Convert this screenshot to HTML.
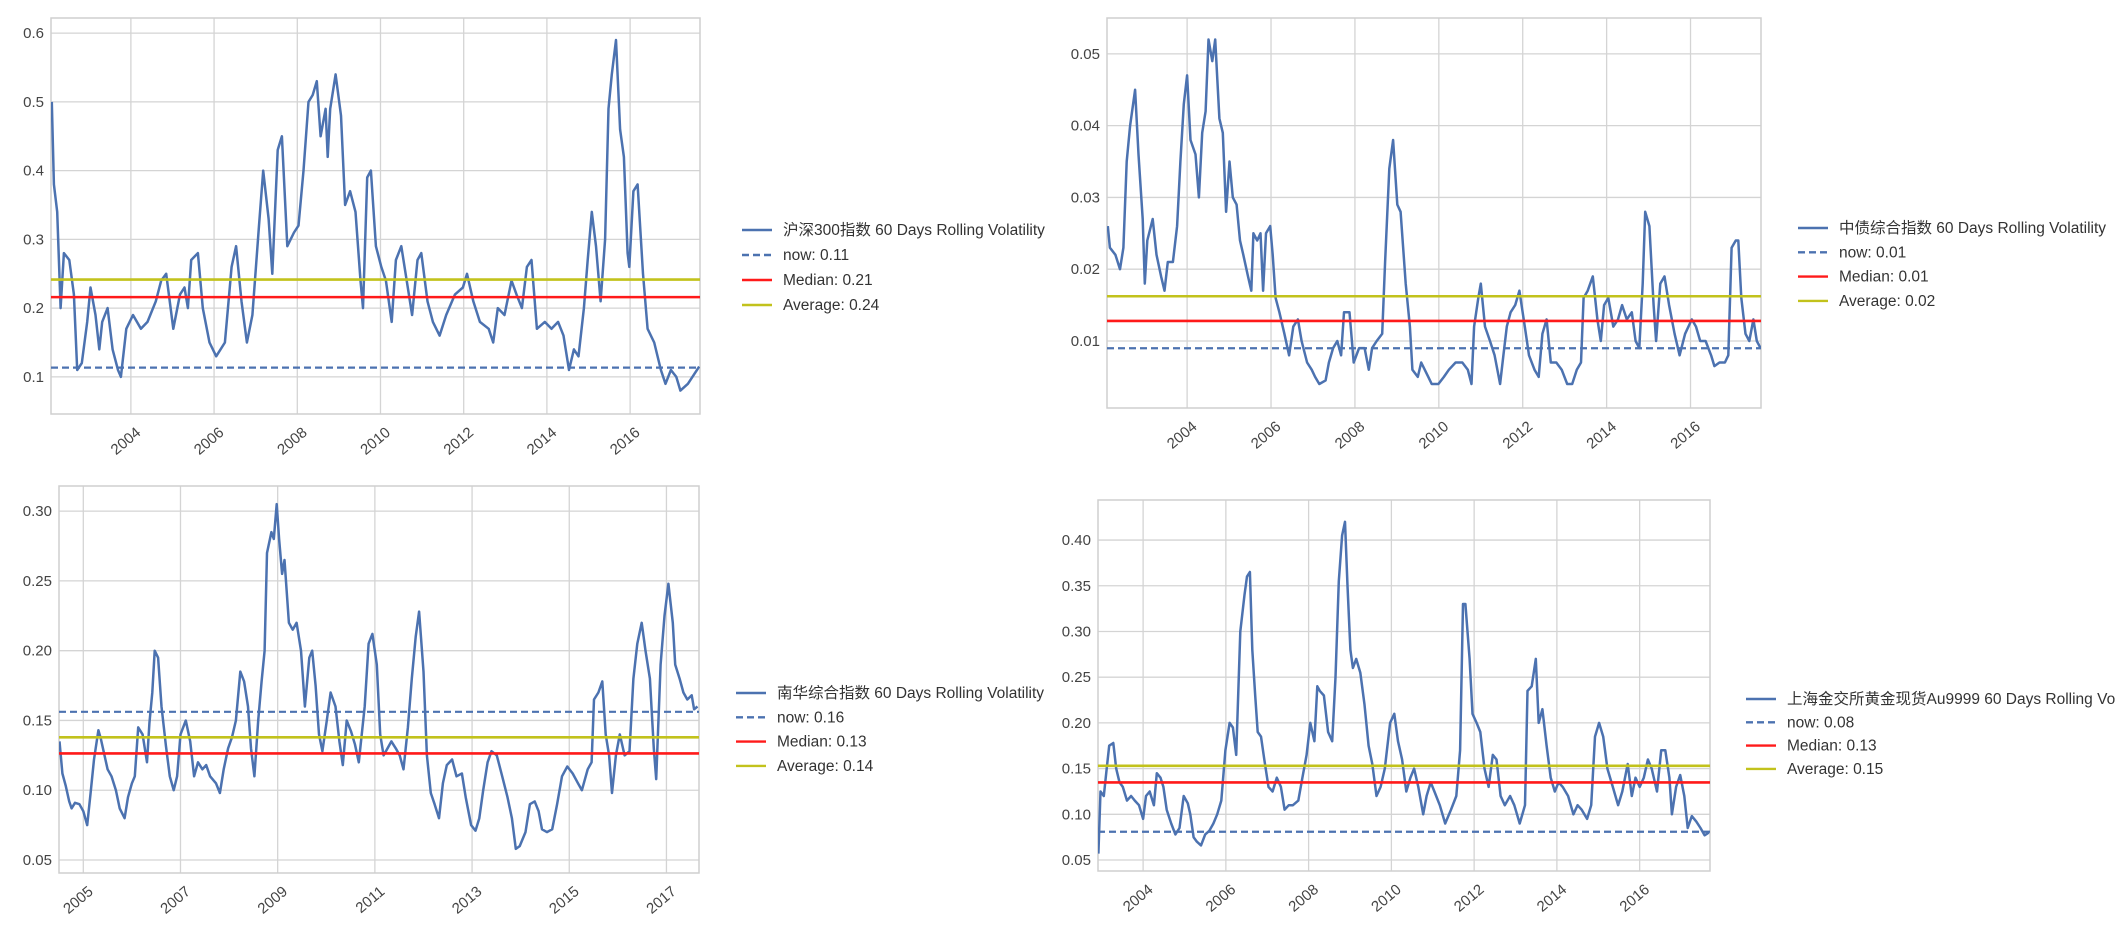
<!DOCTYPE html>
<html><head><meta charset="utf-8"><style>
html,body{margin:0;padding:0;background:#fff;}
svg{display:block;font-family:"Liberation Sans","Noto Sans CJK SC",sans-serif;}
</style></head><body>
<svg id="root" width="2115" height="927" viewBox="0 0 2115 927" xmlns="http://www.w3.org/2000/svg"></svg>
<script>
// ---------- Chart 1 data: 沪深300指数 ----------
const c1Years=[2002.10,2002.15,2002.23,2002.31,2002.39,2002.52,2002.63,2002.71,2002.82,2002.95,2003.03,2003.15,2003.24,2003.31,2003.44,2003.56,2003.69,2003.76,2003.89,2004.05,2004.24,2004.40,2004.60,2004.73,2004.85,2005.02,2005.18,2005.29,2005.37,2005.45,2005.61,2005.73,2005.89,2006.05,2006.26,2006.42,2006.53,2006.66,2006.79,2006.92,2007.08,2007.18,2007.31,2007.40,2007.53,2007.63,2007.76,2007.92,2008.03,2008.15,2008.27,2008.37,2008.47,2008.56,2008.68,2008.73,2008.79,2008.92,2009.05,2009.15,2009.27,2009.40,2009.52,2009.58,2009.68,2009.77,2009.89,2010.02,2010.13,2010.27,2010.37,2010.50,2010.63,2010.76,2010.89,2010.98,2011.13,2011.26,2011.42,2011.58,2011.79,2011.98,2012.08,2012.23,2012.39,2012.60,2012.71,2012.82,2012.98,2013.15,2013.27,2013.40,2013.52,2013.63,2013.76,2013.95,2014.11,2014.27,2014.40,2014.53,2014.65,2014.76,2014.89,2014.98,2015.08,2015.18,2015.29,2015.40,2015.48,2015.56,2015.66,2015.76,2015.85,2015.94,2015.98,2016.08,2016.18,2016.31,2016.42,2016.58,2016.74,2016.85,2016.98,2017.11,2017.21,2017.39,2017.66];
const c1Vals=[0.50,0.38,0.34,0.20,0.28,0.27,0.22,0.11,0.12,0.18,0.23,0.19,0.14,0.18,0.20,0.14,0.11,0.10,0.17,0.19,0.17,0.18,0.21,0.24,0.25,0.17,0.22,0.23,0.20,0.27,0.28,0.20,0.15,0.13,0.15,0.26,0.29,0.21,0.15,0.19,0.32,0.40,0.33,0.25,0.43,0.45,0.29,0.31,0.32,0.40,0.50,0.51,0.53,0.45,0.49,0.42,0.49,0.54,0.48,0.35,0.37,0.34,0.24,0.20,0.39,0.40,0.29,0.26,0.24,0.18,0.27,0.29,0.24,0.19,0.27,0.28,0.21,0.18,0.16,0.19,0.22,0.23,0.25,0.21,0.18,0.17,0.15,0.20,0.19,0.24,0.22,0.20,0.26,0.27,0.17,0.18,0.17,0.18,0.16,0.11,0.14,0.13,0.20,0.27,0.34,0.29,0.21,0.30,0.49,0.54,0.59,0.46,0.42,0.28,0.26,0.37,0.38,0.25,0.17,0.15,0.11,0.09,0.11,0.10,0.08,0.09,0.115];
const c1Refs=[0.1135,0.216,0.2416];
const c1YTicks=[0.1,0.2,0.3,0.4,0.5,0.6];
const c1YLabels=["0.1","0.2","0.3","0.4","0.5","0.6"];
const c1XTicks=[2004,2006,2008,2010,2012,2014,2016];
const c1Legend=["沪深300指数 60 Days Rolling Volatility","now: 0.11","Median: 0.21","Average: 0.24"];

// ---------- Chart 2 data: 中债综合指数 ----------
const c2Years=[2002.11,2002.16,2002.29,2002.40,2002.48,2002.56,2002.64,2002.76,2002.84,2002.94,2002.99,2003.05,2003.18,2003.27,2003.38,2003.46,2003.54,2003.66,2003.76,2003.84,2003.92,2004.00,2004.08,2004.20,2004.28,2004.36,2004.44,2004.51,2004.60,2004.67,2004.77,2004.85,2004.93,2005.01,2005.09,2005.18,2005.26,2005.34,2005.45,2005.53,2005.58,2005.67,2005.75,2005.81,2005.88,2005.98,2006.04,2006.11,2006.20,2006.32,2006.43,2006.53,2006.64,2006.73,2006.86,2006.97,2007.05,2007.15,2007.30,2007.38,2007.48,2007.58,2007.67,2007.74,2007.87,2007.97,2008.10,2008.23,2008.33,2008.41,2008.52,2008.65,2008.72,2008.82,2008.91,2009.01,2009.09,2009.21,2009.31,2009.37,2009.50,2009.58,2009.75,2009.83,2009.99,2010.12,2010.24,2010.40,2010.56,2010.69,2010.78,2010.84,2010.94,2011.00,2011.10,2011.22,2011.33,2011.46,2011.54,2011.62,2011.71,2011.82,2011.92,2012.05,2012.15,2012.28,2012.38,2012.47,2012.57,2012.67,2012.80,2012.93,2013.06,2013.18,2013.29,2013.39,2013.45,2013.55,2013.67,2013.78,2013.86,2013.94,2014.04,2014.16,2014.27,2014.37,2014.48,2014.60,2014.69,2014.78,2014.86,2014.92,2015.02,2015.12,2015.18,2015.28,2015.38,2015.49,2015.62,2015.74,2015.87,2016.03,2016.13,2016.23,2016.36,2016.49,2016.57,2016.69,2016.82,2016.90,2016.98,2017.08,2017.14,2017.21,2017.31,2017.40,2017.50,2017.58,2017.67];
const c2Vals=[0.026,0.023,0.022,0.020,0.023,0.035,0.040,0.045,0.036,0.027,0.018,0.024,0.027,0.022,0.019,0.017,0.021,0.021,0.026,0.035,0.043,0.047,0.038,0.036,0.030,0.039,0.042,0.052,0.049,0.052,0.041,0.039,0.028,0.035,0.030,0.029,0.024,0.022,0.019,0.017,0.025,0.024,0.025,0.017,0.025,0.026,0.022,0.016,0.014,0.011,0.008,0.012,0.013,0.010,0.007,0.006,0.005,0.004,0.0045,0.007,0.009,0.010,0.008,0.014,0.014,0.007,0.009,0.009,0.006,0.009,0.010,0.011,0.021,0.034,0.038,0.029,0.028,0.018,0.012,0.006,0.005,0.007,0.005,0.004,0.004,0.005,0.006,0.007,0.007,0.006,0.004,0.012,0.016,0.018,0.012,0.010,0.008,0.004,0.008,0.012,0.014,0.015,0.017,0.012,0.008,0.006,0.005,0.011,0.013,0.007,0.007,0.006,0.004,0.004,0.006,0.007,0.016,0.017,0.019,0.013,0.010,0.015,0.016,0.012,0.013,0.015,0.013,0.014,0.010,0.009,0.018,0.028,0.026,0.015,0.010,0.018,0.019,0.015,0.011,0.008,0.011,0.013,0.012,0.010,0.010,0.008,0.0065,0.007,0.007,0.008,0.023,0.024,0.024,0.016,0.011,0.010,0.013,0.010,0.009];
const c2Refs=[0.00898,0.01279,0.01623];
const c2YTicks=[0.01,0.02,0.03,0.04,0.05];
const c2YLabels=["0.01","0.02","0.03","0.04","0.05"];
const c2XTicks=[2004,2006,2008,2010,2012,2014,2016];
const c2Legend=["中债综合指数 60 Days Rolling Volatility","now: 0.01","Median: 0.01","Average: 0.02"];

// ---------- Chart 3 data: 南华综合指数 ----------
const c3Years=[2004.51,2004.57,2004.64,2004.71,2004.76,2004.83,2004.92,2005.00,2005.08,2005.15,2005.22,2005.31,2005.36,2005.43,2005.50,2005.58,2005.67,2005.75,2005.85,2005.92,2006.00,2006.06,2006.13,2006.22,2006.31,2006.36,2006.42,2006.47,2006.54,2006.61,2006.70,2006.78,2006.86,2006.93,2007.00,2007.11,2007.20,2007.28,2007.36,2007.45,2007.53,2007.61,2007.73,2007.81,2007.89,2007.98,2008.06,2008.14,2008.23,2008.31,2008.39,2008.45,2008.52,2008.60,2008.67,2008.73,2008.78,2008.87,2008.92,2008.98,2009.03,2009.09,2009.14,2009.23,2009.31,2009.39,2009.48,2009.56,2009.65,2009.71,2009.78,2009.85,2009.92,2010.01,2010.09,2010.19,2010.27,2010.34,2010.42,2010.51,2010.59,2010.67,2010.79,2010.87,2010.95,2011.04,2011.11,2011.18,2011.26,2011.34,2011.43,2011.51,2011.59,2011.68,2011.76,2011.84,2011.91,2012.00,2012.07,2012.15,2012.23,2012.32,2012.40,2012.48,2012.59,2012.68,2012.79,2012.87,2012.98,2013.07,2013.15,2013.23,2013.32,2013.40,2013.51,2013.62,2013.73,2013.82,2013.90,2013.98,2014.10,2014.19,2014.29,2014.37,2014.44,2014.54,2014.65,2014.75,2014.85,2014.96,2015.07,2015.18,2015.26,2015.38,2015.46,2015.51,2015.60,2015.68,2015.75,2015.82,2015.88,2015.96,2016.04,2016.14,2016.24,2016.32,2016.40,2016.49,2016.57,2016.66,2016.74,2016.79,2016.88,2016.96,2017.04,2017.13,2017.18,2017.27,2017.35,2017.43,2017.52,2017.57,2017.64];
const c3Vals=[0.135,0.112,0.103,0.092,0.087,0.091,0.090,0.085,0.075,0.098,0.122,0.143,0.137,0.126,0.115,0.110,0.100,0.087,0.080,0.095,0.105,0.110,0.145,0.140,0.120,0.148,0.170,0.200,0.195,0.160,0.132,0.110,0.100,0.110,0.140,0.150,0.135,0.110,0.120,0.115,0.118,0.110,0.105,0.098,0.115,0.130,0.138,0.150,0.185,0.178,0.160,0.130,0.110,0.150,0.178,0.200,0.270,0.285,0.280,0.305,0.280,0.255,0.265,0.220,0.215,0.220,0.200,0.160,0.195,0.200,0.175,0.140,0.128,0.150,0.170,0.160,0.135,0.118,0.150,0.142,0.133,0.120,0.160,0.205,0.212,0.190,0.140,0.125,0.130,0.135,0.130,0.125,0.115,0.145,0.180,0.210,0.228,0.185,0.125,0.098,0.090,0.080,0.105,0.118,0.122,0.110,0.112,0.095,0.075,0.071,0.080,0.100,0.120,0.128,0.125,0.110,0.095,0.080,0.058,0.060,0.070,0.090,0.092,0.085,0.072,0.070,0.072,0.090,0.110,0.117,0.112,0.105,0.100,0.115,0.120,0.165,0.170,0.178,0.140,0.125,0.098,0.125,0.140,0.125,0.128,0.180,0.205,0.220,0.200,0.180,0.130,0.108,0.190,0.225,0.248,0.220,0.190,0.180,0.170,0.165,0.168,0.158,0.160];
const c3Refs=[0.1562,0.1264,0.1379];
const c3YTicks=[0.05,0.10,0.15,0.20,0.25,0.30];
const c3YLabels=["0.05","0.10","0.15","0.20","0.25","0.30"];
const c3XTicks=[2005,2007,2009,2011,2013,2015,2017];
const c3Legend=["南华综合指数 60 Days Rolling Volatility","now: 0.16","Median: 0.13","Average: 0.14"];

// ---------- Chart 4 data: 上海金交所黄金现货Au9999 ----------
const c4Years=[2002.92,2002.97,2003.05,2003.12,2003.18,2003.28,2003.35,2003.43,2003.51,2003.61,2003.71,2003.80,2003.90,2004.00,2004.07,2004.16,2004.26,2004.33,2004.42,2004.49,2004.57,2004.68,2004.78,2004.88,2004.98,2005.08,2005.14,2005.22,2005.30,2005.40,2005.50,2005.60,2005.70,2005.79,2005.89,2005.99,2006.09,2006.17,2006.25,2006.35,2006.45,2006.51,2006.58,2006.64,2006.71,2006.77,2006.85,2006.93,2007.03,2007.13,2007.23,2007.33,2007.42,2007.52,2007.62,2007.75,2007.85,2007.95,2008.04,2008.14,2008.21,2008.27,2008.37,2008.47,2008.57,2008.65,2008.73,2008.81,2008.88,2008.94,2009.01,2009.07,2009.15,2009.25,2009.35,2009.45,2009.54,2009.64,2009.74,2009.84,2009.97,2010.07,2010.16,2010.26,2010.36,2010.46,2010.55,2010.65,2010.77,2010.85,2010.95,2011.04,2011.17,2011.30,2011.44,2011.57,2011.66,2011.73,2011.79,2011.89,2011.96,2012.06,2012.15,2012.25,2012.35,2012.45,2012.54,2012.64,2012.74,2012.87,2012.97,2013.10,2013.23,2013.29,2013.39,2013.49,2013.56,2013.65,2013.75,2013.85,2013.95,2014.04,2014.14,2014.27,2014.40,2014.50,2014.60,2014.73,2014.83,2014.92,2015.02,2015.12,2015.22,2015.35,2015.48,2015.58,2015.71,2015.81,2015.90,2016.00,2016.10,2016.20,2016.29,2016.42,2016.52,2016.62,2016.72,2016.78,2016.88,2016.98,2017.08,2017.16,2017.26,2017.37,2017.47,2017.57,2017.67];
const c4Vals=[0.057,0.125,0.120,0.150,0.175,0.178,0.150,0.135,0.130,0.115,0.120,0.115,0.110,0.095,0.120,0.125,0.110,0.145,0.140,0.130,0.105,0.090,0.078,0.085,0.120,0.112,0.100,0.075,0.070,0.066,0.078,0.082,0.090,0.100,0.115,0.170,0.200,0.195,0.165,0.300,0.340,0.360,0.365,0.280,0.230,0.190,0.185,0.160,0.130,0.125,0.140,0.130,0.105,0.110,0.110,0.115,0.140,0.165,0.200,0.180,0.240,0.235,0.230,0.190,0.180,0.250,0.355,0.405,0.420,0.350,0.280,0.260,0.270,0.255,0.220,0.175,0.155,0.120,0.130,0.150,0.200,0.210,0.180,0.160,0.125,0.140,0.150,0.130,0.100,0.120,0.135,0.125,0.110,0.090,0.105,0.120,0.170,0.330,0.330,0.270,0.210,0.200,0.190,0.150,0.130,0.165,0.160,0.120,0.110,0.120,0.110,0.090,0.110,0.235,0.240,0.270,0.200,0.215,0.175,0.140,0.125,0.135,0.130,0.120,0.100,0.110,0.105,0.095,0.110,0.185,0.200,0.185,0.150,0.130,0.110,0.125,0.155,0.120,0.140,0.130,0.140,0.160,0.150,0.125,0.170,0.170,0.140,0.100,0.130,0.143,0.120,0.085,0.098,0.092,0.085,0.077,0.080];
const c4Refs=[0.0809,0.1349,0.1531];
const c4YTicks=[0.05,0.10,0.15,0.20,0.25,0.30,0.35,0.40];
const c4YLabels=["0.05","0.10","0.15","0.20","0.25","0.30","0.35","0.40"];
const c4XTicks=[2004,2006,2008,2010,2012,2014,2016];
const c4Legend=["上海金交所黄金现货Au9999 60 Days Rolling Volatility","now: 0.08","Median: 0.13","Average: 0.15"];

const NS="http://www.w3.org/2000/svg";
const root=document.getElementById('root');
function mk(tag,attrs,parent){const e=document.createElementNS(NS,tag);for(const k in attrs)e.setAttribute(k,attrs[k]);parent.appendChild(e);return e;}

const refColors=["#4c72b0","#ff1a1a","#c2c21c"];
function drawChart(id,box,xDom,yDom,years,vals,refs,yTicks,yLabels,xTicks,legend,leg){
  const g=mk('g',{},root);
  
  
  const X=v=>box.l+(v-xDom[0])/(xDom[1]-xDom[0])*(box.r-box.l);
  const Y=v=>box.b-(v-yDom[0])/(yDom[1]-yDom[0])*(box.b-box.t);
  const grid=mk('g',{stroke:"#d4d4d4","stroke-width":1.3},g);
  
  
  yTicks.forEach((t,i)=>{
    const y=Y(t);
    mk('line',{x1:box.l,x2:box.r,y1:y,y2:y},grid);
    const tx=mk('text',{x:box.l-7,y:y+5,"text-anchor":"end","font-size":15,fill:"#444"},g);
    tx.textContent=yLabels[i];
    
    
  });
  xTicks.forEach(t=>{
    const x=X(t);
    mk('line',{x1:x,x2:x,y1:box.t,y2:box.b},grid);
    const tx=mk('text',{x:x+4,y:box.b+12,"text-anchor":"end","font-size":15,fill:"#444",transform:`rotate(-40 ${x+4} ${box.b+12})`,dy:"0.7em"},g);
    tx.textContent=String(t);
    
    
  });
  const frame=mk('rect',{x:box.l,y:box.t,width:box.r-box.l,height:box.b-box.t,fill:"none",stroke:"#cfcfcf","stroke-width":1.5},g);
  
  
  const clipId=id+'-clip';
  const cp=mk('clipPath',{id:clipId},g);mk('rect',{x:box.l,y:box.t,width:box.r-box.l,height:box.b-box.t},cp);
  const pts=years.map((yr,i)=>X(yr).toFixed(1)+','+Y(vals[i]).toFixed(1)).join(' ');
  const line=mk('polyline',{points:pts,fill:"none",stroke:"#4c72b0","stroke-width":2.5,"stroke-linejoin":"round","clip-path":`url(#${clipId})`},g);
  
  
  const names=['now-line','median-line','average-line'];
  refs.forEach((v,i)=>{
    const y=Y(v);
    const a={x1:box.l,x2:box.r,y1:y,y2:y,stroke:refColors[i],"stroke-width":i===0?2.2:2.6};
    if(i===0)a["stroke-dasharray"]="7,4";
    const l=mk('line',a,g);
    
    
  });
  const lg=mk('g',{},g);
  
  
  const lColors=["#4c72b0","#4c72b0","#ff1a1a","#c2c21c"];
  legend.forEach((txt,i)=>{
    const y=leg.y+i*leg.dy;
    const a={x1:leg.x,x2:leg.x+30,y1:y,y2:y,stroke:lColors[i],"stroke-width":2.4};
    if(i===1)a["stroke-dasharray"]="7,4";
    const l=mk('line',a,lg);
    
    
    const t=mk('text',{x:leg.x+41,y:y+5,"font-size":15.5,fill:"#333"},lg);
    t.textContent=txt;
    
    
  });
}
drawChart('chart-hs300',{l:51,r:700,t:18,b:414},[2002.08,2017.68],[0.046,0.622],c1Years,c1Vals,c1Refs,c1YTicks,c1YLabels,c1XTicks,c1Legend,{x:742,y:230,dy:25});
drawChart('chart-bond',{l:1107,r:1761,t:18,b:408},[2002.09,2017.68],[0.00066,0.0550],c2Years,c2Vals,c2Refs,c2YTicks,c2YLabels,c2XTicks,c2Legend,{x:1798,y:228,dy:24.3});
drawChart('chart-nanhua',{l:59,r:699,t:486,b:873},[2004.50,2017.67],[0.0407,0.318],c3Years,c3Vals,c3Refs,c3YTicks,c3YLabels,c3XTicks,c3Legend,{x:736,y:693,dy:24.3});
drawChart('chart-gold',{l:1098,r:1710,t:500,b:871},[2002.91,2017.70],[0.038,0.4438],c4Years,c4Vals,c4Refs,c4YTicks,c4YLabels,c4XTicks,c4Legend,{x:1746,y:699,dy:23.3});
</script>
</body></html>
